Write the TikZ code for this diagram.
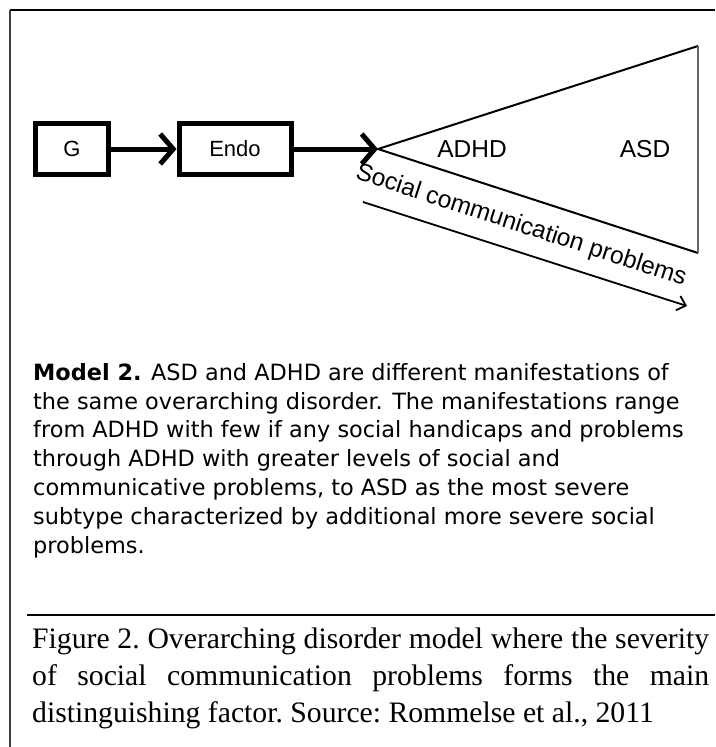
\documentclass[tikz,border=0pt]{standalone}
\usepackage{fontspec}
\setmainfont{Liberation Serif}
\newfontfamily\diagfont{Liberation Sans}
\newfontfamily\notefont{DejaVu Sans}
\usetikzlibrary{arrows.meta,positioning}

\begin{document}
\begin{tikzpicture}[
    x=1pt,y=-1pt,
    gbox/.style={draw,line width=5pt,minimum width=73pt,minimum height=51pt,
                 inner sep=0pt,font=\diagfont\fontsize{22}{26}\selectfont},
    arr/.style={-{Straight Barb[length=13pt,width=30pt]},line width=5pt},
    lbl/.style={inner sep=0pt,font=\diagfont\fontsize{24.5}{28}\selectfont},
    thinarr/.style={-{Straight Barb[length=8pt,width=15pt]},line width=1.8pt},
  ]
  \useasboundingbox (0,0) rectangle (715,747);

  %% ── Frame ─────────────────────────────────────────────────────────────────
  \draw[line width=2.7pt] (10,10) -- (715,10);
  \draw[black!75,line width=2pt] (10,10) -- (10,747);

  %% ── G -> Endo -> spectrum ─────────────────────────────────────────────────
  \node[gbox] (g) at (72,149) {G};
  \node[gbox,minimum width=112pt] (endo) at (235,149) {Endo};
  \coordinate (apex) at (378,149);

  \draw[arr] (g) -- (endo);
  \draw[arr] (endo) -- (apex);

  %% ── Spectrum wedge ────────────────────────────────────────────────────────
  \coordinate (top) at (698,46);
  \coordinate (bot) at (698,253);
  \draw[line width=2pt] (top) -- (apex) -- (bot);
  \draw[black!60,line width=1.5pt] (top) -- (bot);

  \node[lbl] (adhd) at (472,149) {ADHD};
  \node[lbl] (asd)  at (645,149) {ASD};

  %% ── Severity axis ─────────────────────────────────────────────────────────
  \node[lbl,rotate=-18] (social) at (521,226) {Social communication problems};
  \coordinate (sc start) at (363,202);
  \coordinate (sc end)   at (687,306);
  \draw[thinarr] (sc start) -- (sc end);

  %% ── Model description ─────────────────────────────────────────────────────
  \node[anchor=north west,inner sep=0pt,align=left,
        font=\notefont\fontsize{22.4}{28.8}\selectfont] (model) at (33,363)
      {\textbf{Model 2.} ASD and ADHD are different manifestations of\\
       the same overarching disorder. The manifestations range\\
       from ADHD with few if any social handicaps and problems\\
       through ADHD with greater levels of social and\\
       communicative problems, to ASD as the most severe\\
       subtype characterized by additional more severe social\\
       problems.};

  %% ── Caption ───────────────────────────────────────────────────────────────
  \draw[line width=2.7pt] (27,615) -- (715,615);
  \node[anchor=north west,inner sep=0pt,text width=677pt,align=justify,
        font=\fontsize{29.7}{37}\selectfont\frenchspacing] (caption) at (32,627.7)
      {\tolerance=9999 \hyphenpenalty=10000
       Figure 2. Overarching disorder model where the \mbox{severity}\linebreak
       of social communication problems forms the main\linebreak
       \mbox{distinguishing} factor. Source: Rommelse et al., 2011};

\end{tikzpicture}
\end{document}
